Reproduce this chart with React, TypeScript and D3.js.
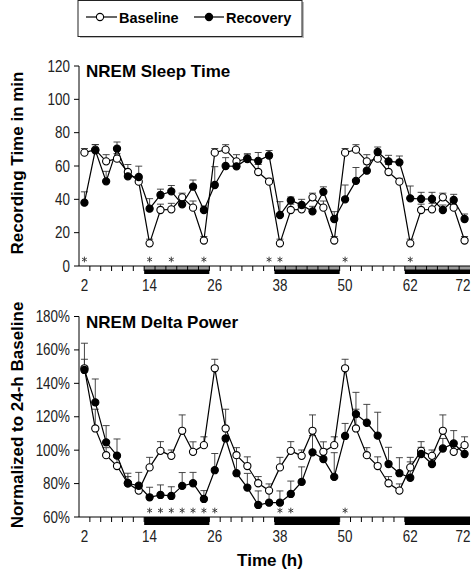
import React from 'react';
import * as d3 from 'd3';

const HOURS = [2, 4, 6, 8, 10, 12, 14, 16, 18, 20, 22, 24, 26, 28, 30, 32, 34, 36, 38, 40, 42, 44, 46, 48, 50, 52, 54, 56, 58, 60, 62, 64, 66, 68, 70, 72];
const X_TICK_LABELS = [2, 14, 26, 38, 50, 62, 72];
const X_MINOR_TICKS = [3, 5, 7, 9, 11, 13, 15, 17, 19, 21, 23, 25, 27, 29, 31, 33, 35, 37, 39, 41, 43, 45, 47, 49, 51, 53, 55, 57, 59, 61, 63, 65, 67, 69, 71];
const DARK_START = [13, 37, 61];
const DARK_END = [25, 49, 73];

const SLEEP_TICKS = [0, 20, 40, 60, 80, 100, 120];
const DELTA_TICKS = [60, 80, 100, 120, 140, 160, 180];

const sleepBaseline = [68, 69.8, 62.8, 64.4, 56.4, 50.6, 13.6, 33.6, 34, 41.2, 35, 15.3, 68, 69.8, 62.8, 64.4, 56.4, 50.6, 13.6, 33.6, 34, 41.2, 35, 15.3, 68, 69.8, 62.8, 64.4, 56.4, 50.6, 13.6, 33.6, 34, 41.2, 35, 15.3];
const sleepBaselineErr = [2.5, 3, 4, 3, 4.5, 2, 2.5, 3.5, 3.6, 2.5, 4, 2.4, 2.5, 3, 4, 3, 4.5, 2, 2.5, 3.5, 3.6, 2.5, 4, 2.4, 2.5, 3, 4, 3, 4.5, 2, 2.5, 3.5, 3.6, 2.5, 4, 2.4];
const sleepRecovery = [38, 69.4, 50.8, 70.4, 53.8, 53.4, 34.4, 42.6, 44.8, 37, 47.6, 33.6, 48.6, 60, 59.8, 64.2, 63.1, 66.3, 30.6, 39.4, 36.6, 32.8, 44.5, 28.2, 40, 51.1, 57.2, 68.4, 62.8, 62.2, 40.6, 40.2, 40.2, 33.6, 39.6, 28.2];
const sleepRecoveryErr = [6.5, 3.5, 6, 4, 3.5, 6.5, 6, 3.5, 3.5, 4, 4, 2.4, 11, 5, 3, 2.5, 5, 3, 8, 2, 3.4, 3, 3, 4.4, 8.6, 8, 4, 3, 3.6, 3.8, 7.4, 4, 4, 3, 3.4, 3];
const sleepStars = [2, 14, 18, 24, 36, 38, 50, 62];

const deltaBaseline = [149, 113, 97, 90.5, 80.2, 75.8, 89.7, 99.6, 96.6, 111.6, 99, 103, 149, 113, 97, 90.5, 80.2, 75.8, 89.7, 99.6, 96.6, 111.6, 99, 103, 149, 113, 97, 90.5, 80.2, 75.8, 89.7, 99.6, 96.6, 111.6, 99, 103];
const deltaBaselineErr = [5.4, 11.5, 4.5, 5.5, 4, 4, 6, 5.5, 3.5, 9.5, 6, 5, 5.4, 11.5, 4.5, 5.5, 4, 4, 6, 5.5, 3.5, 9.5, 6, 5, 5.4, 11.5, 4.5, 5.5, 4, 4, 6, 5.5, 3.5, 9.5, 6, 5];
const deltaRecovery = [148, 128.6, 104.7, 96.7, 80.2, 78.7, 71.8, 73.2, 72.6, 78.6, 80.2, 70.8, 88, 107, 86.2, 77.6, 67.2, 68.6, 68.6, 73.8, 81, 98.7, 94.7, 84, 108.5, 121.6, 116.4, 108.7, 91.7, 86.2, 83.5, 97.7, 91.7, 101, 104, 97.7];
const deltaRecoveryErr = [16, 14, 10, 10, 6, 8, 6, 6, 5.5, 8, 6.5, 5, 10, 6, 12, 8.5, 8.4, 7, 7, 7.7, 9, 10, 6, 14.5, 7.5, 13, 11, 14, 10, 9.3, 9.5, 4, 5, 6, 7.7, 4];
const deltaStars = [14, 16, 18, 20, 22, 24, 26, 38, 40, 50];

const FONT = "'Liberation Sans', Arial, sans-serif";

const x = d3.scaleLinear().domain([1, 73]).range([79, 470]);
const starPath = d3.symbol().type(d3.symbolAsterisk).size(22)() || '';

type PanelProps = {
  y: d3.ScaleLinear<number, number>;
  ticks: number[];
  fmt: (v: number) => string;
  title: string;
  baseline: number[];
  baselineErr: number[];
  recovery: number[];
  recoveryErr: number[];
  stars: number[];
  greyStripe: boolean;
};

function Panel({ y, ticks, fmt, title, baseline, baselineErr, recovery, recoveryErr, stars, greyStripe }: PanelProps) {
  const [y0, y1] = y.range();
  const line = d3.line<number>().x((_, i) => x(HOURS[i])).y((d) => y(d));
  const errBars = (vals: number[], errs: number[], key: string) =>
    vals.map((v, i) => {
      const cx = x(HOURS[i]);
      const top = y(v + errs[i]);
      return (
        <g key={key + i} stroke="#333" strokeWidth={0.9} fill="none">
          <line x1={cx} x2={cx} y1={y(v)} y2={top} />
          <line x1={cx - 3.5} x2={cx + 3.5} y1={top} y2={top} />
        </g>
      );
    });
  return (
    <g>
      {DARK_START.map((s, i) => (
        <g key={'dk' + i}>
          <rect x={x(s)} y={y0} width={x(DARK_END[i]) - x(s)} height={8} fill="#000" />
          {greyStripe && <rect x={x(s)} y={y0} width={x(DARK_END[i]) - x(s)} height={3.5} fill="#9a9a9a" />}
        </g>
      ))}
      <line x1={x(1)} x2={x(1)} y1={y1} y2={y0} stroke="#000" strokeWidth={1} />
      <line x1={x(1)} x2={x(73)} y1={y0} y2={y0} stroke="#000" strokeWidth={1} />
      {ticks.map((t) => (
        <g key={'yt' + t}>
          <line x1={x(1) - 5} x2={x(1)} y1={y(t)} y2={y(t)} stroke="#000" />
          <text transform={`translate(${x(1) - 9},${y(t) + 5.5}) scale(0.84,1)`} textAnchor="end" fontFamily={FONT} fontSize={16} fill="#222">
            {fmt(t)}
          </text>
        </g>
      ))}
      {X_MINOR_TICKS.map((t) => (
        <line key={'xt' + t} x1={x(t)} x2={x(t)} y1={y0} y2={y0 + 5} stroke="#000" />
      ))}
      {X_TICK_LABELS.map((t) => (
        <text key={'xl' + t} transform={`translate(${Math.min(x(t), 463)},${y0 + 25}) scale(0.84,1)`} textAnchor="middle" fontFamily={FONT} fontSize={16} fill="#222">
          {t}
        </text>
      ))}
      <text x={86} y={y1 + 11} fontFamily={FONT} fontWeight="bold" fontSize={17} fill="#000">
        {title}
      </text>
      {stars.map((s) => (
        <path key={'st' + s} d={starPath} transform={`translate(${x(s)},${y0 - 6.5})`} fill="none" stroke="#333" strokeWidth={0.9} />
      ))}
      {errBars(baseline, baselineErr, 'be')}
      {errBars(recovery, recoveryErr, 're')}
      <path d={line(baseline) || ''} fill="none" stroke="#000" strokeWidth={1.2} />
      <path d={line(recovery) || ''} fill="none" stroke="#000" strokeWidth={1.2} />
      {baseline.map((v, i) => (
        <circle key={'bc' + i} cx={x(HOURS[i])} cy={y(v)} r={3.6} fill="#fff" stroke="#000" strokeWidth={1.1} />
      ))}
      {recovery.map((v, i) => (
        <circle key={'rc' + i} cx={x(HOURS[i])} cy={y(v)} r={3.6} fill="#000" stroke="#000" strokeWidth={1.1} />
      ))}
    </g>
  );
}

export default function App() {
  const ySleep = d3.scaleLinear().domain([0, 120]).range([266, 66]);
  const yDelta = d3.scaleLinear().domain([60, 180]).range([517, 316.5]);
  return (
    <svg width={471} height={575} style={{ position: 'absolute', left: 0, top: 0, background: '#fff' }}>
      <rect x={80} y={2} width={224} height={36} fill="#bbb" />
      <rect x={78} y={0.5} width={224} height={36} fill="#fff" stroke="#222" strokeWidth={1} />
      <line x1={86} x2={117} y1={17} y2={17} stroke="#000" strokeWidth={1.2} />
      <circle cx={100} cy={17} r={3.6} fill="#fff" stroke="#000" strokeWidth={1.1} />
      <text x={119} y={22.5} fontFamily={FONT} fontWeight="bold" fontSize={14.5}>Baseline</text>
      <line x1={194} x2={224} y1={17} y2={17} stroke="#000" strokeWidth={1.2} />
      <circle cx={209} cy={17} r={3.6} fill="#000" stroke="#000" strokeWidth={1.1} />
      <text x={226} y={22.5} fontFamily={FONT} fontWeight="bold" fontSize={14.5}>Recovery</text>

      <Panel y={ySleep} ticks={SLEEP_TICKS} fmt={(v) => String(v)} title="NREM Sleep Time"
        baseline={sleepBaseline} baselineErr={sleepBaselineErr} recovery={sleepRecovery} recoveryErr={sleepRecoveryErr}
        stars={sleepStars} greyStripe={true} />
      <Panel y={yDelta} ticks={DELTA_TICKS} fmt={(v) => v + '%'} title="NREM Delta Power"
        baseline={deltaBaseline} baselineErr={deltaBaselineErr} recovery={deltaRecovery} recoveryErr={deltaRecoveryErr}
        stars={deltaStars} greyStripe={false} />

      <text transform="translate(23,163) rotate(-90)" textAnchor="middle" fontFamily={FONT} fontWeight="bold" fontSize={17}>
        Recording Time in min
      </text>
      <text transform="translate(23,415) rotate(-90)" textAnchor="middle" fontFamily={FONT} fontWeight="bold" fontSize={17}>
        Normalized to 24-h Baseline
      </text>
      <text x={270} y={566} textAnchor="middle" fontFamily={FONT} fontWeight="bold" fontSize={17}>
        Time (h)
      </text>
    </svg>
  );
}
